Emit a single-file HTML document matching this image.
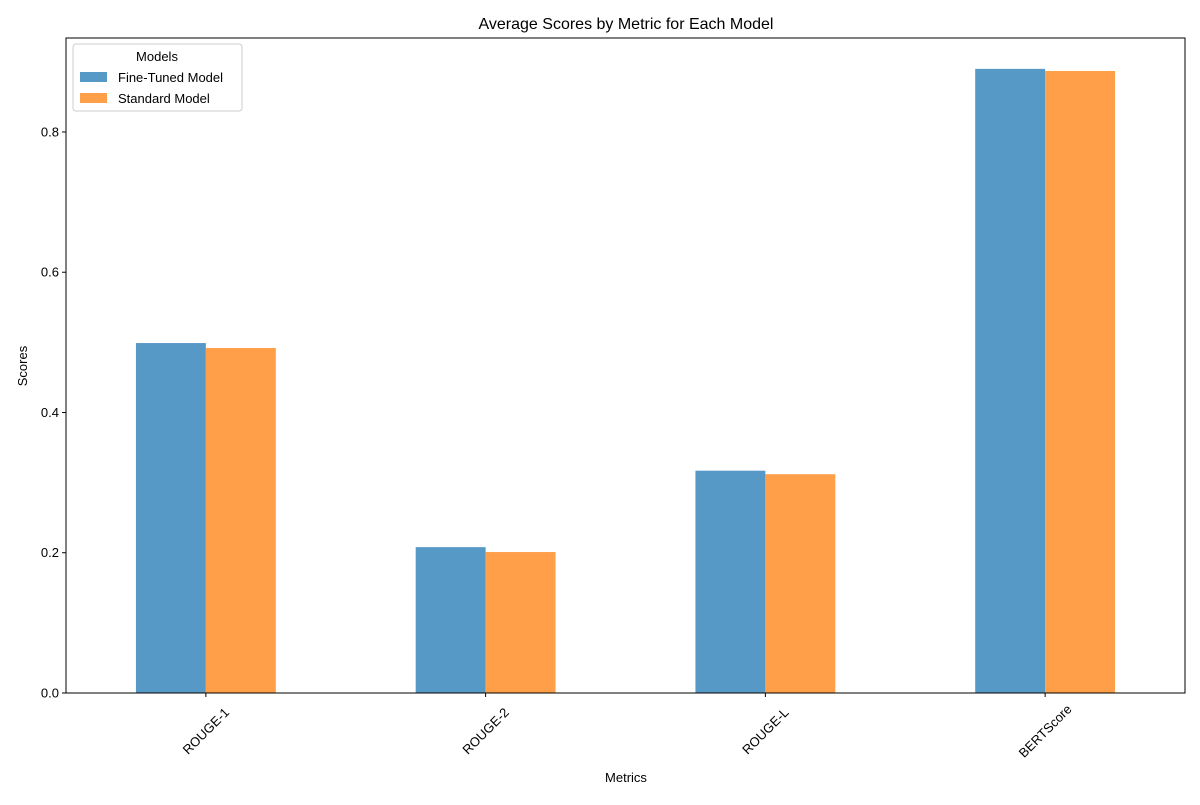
<!DOCTYPE html>
<html><head><meta charset="utf-8"><style>
body{margin:0;background:#fff;}
svg{font-family:"Liberation Sans","DejaVu Sans",sans-serif;}
</style></head><body>
<svg id="chart" width="1200" height="800" xmlns="http://www.w3.org/2000/svg">
<rect width="1200" height="800" fill="#fff"/>
<text x="626" y="29" font-size="16" text-anchor="middle">Average Scores by Metric for Each Model</text>
<g id="bars"></g>
<g id="axes"></g>
<text x="626" y="782" font-size="13" text-anchor="middle">Metrics</text>
<text transform="translate(27,366) rotate(-90)" font-size="13" text-anchor="middle">Scores</text>
<g>
<rect x="73" y="44" width="169" height="67" fill="#fff" stroke="#ccc" rx="3"/>
<text x="157" y="61" font-size="13" text-anchor="middle">Models</text>
<rect x="80" y="72" width="27" height="10" fill="#5799c6"/>
<text x="118" y="82" font-size="13">Fine-Tuned Model</text>
<rect x="80" y="93" width="27" height="10" fill="#ff9f4a"/>
<text x="118" y="103" font-size="13">Standard Model</text>
</g>
</svg>
<script>
const categories=["ROUGE-1","ROUGE-2","ROUGE-L","BERTScore"];
const fineTuned=[0.499,0.208,0.317,0.890];
const standard=[0.492,0.201,0.312,0.887];
const yTicks=[0,0.2,0.4,0.6,0.8];
const yTickLabels=["0.0","0.2","0.4","0.6","0.8"];
const L=66,R=1185,T=38,B=693,YMAX=0.934;
const NS="http://www.w3.org/2000/svg";
const unit=(R-L)/categories.length;
function xs(i){return L+unit*(i+0.5);}
function ys(v){return B-(v/YMAX)*(B-T);}
const bars=document.getElementById('bars'),axes=document.getElementById('axes');
function mk(tag,attrs,parent){const e=document.createElementNS(NS,tag);for(const k in attrs)e.setAttribute(k,attrs[k]);parent.appendChild(e);return e;}
const bw=unit*0.25;
categories.forEach((c,i)=>{
  const b1=mk('rect',{x:xs(i)-bw,y:ys(fineTuned[i]),width:bw,height:B-ys(fineTuned[i]),fill:'#5799c6'},bars);
  
  
  const b2=mk('rect',{x:xs(i),y:ys(standard[i]),width:bw,height:B-ys(standard[i]),fill:'#ff9f4a'},bars);
  
  
  mk('line',{x1:xs(i),x2:xs(i),y1:B,y2:B+4,stroke:'#000'},axes);
  const t=mk('text',{transform:`translate(${xs(i)},${B+38}) rotate(-45)`,y:4.5,'font-size':13,'text-anchor':'middle'},axes);
  t.textContent=c;
  
  
});
yTicks.forEach((v,i)=>{
  mk('line',{x1:L-4,x2:L,y1:ys(v),y2:ys(v),stroke:'#000'},axes);
  const t=mk('text',{x:L-7,y:ys(v)+4.5,'font-size':13,'text-anchor':'end'},axes);
  t.textContent=yTickLabels[i];
  
  
});
const f=mk('rect',{x:L,y:T,width:R-L,height:B-T,fill:'none',stroke:'#000'},axes);


</script>
</body></html>
